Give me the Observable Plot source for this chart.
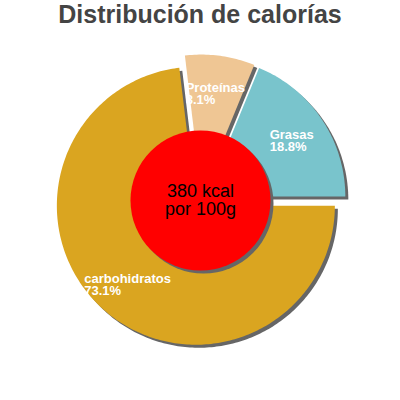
<!DOCTYPE html>
<html>
<head>
<meta charset="utf-8">
<script src="https://cdn.jsdelivr.net/npm/d3@7"></script>
<script src="https://cdn.jsdelivr.net/npm/@observablehq/plot@0.6"></script>
<style>
  html, body { margin: 0; padding: 0; background: #fff; }
  #title { width: 400px; height: 34px; line-height: 34px; text-align: center;
           font: bold 25px "Liberation Sans", Arial, sans-serif; color: #444; white-space: nowrap; }
  #chart svg { display: block; }
</style>
</head>
<body>
<div id="title">Distribución de calorías</div>
<div id="chart"></div>
<script>
// ---- data ----
const names = ["Proteínas", "Grasas", "carbohidratos"];
const percents = [8.1, 18.8, 73.1];
const colors = ["#efc694", "#79c4cc", "#daa520"];
const centerLines = ["380 kcal", "por 100g"];

// ---- layout constants ----
const W = 400, H = 366;
const R = 139;        // pie radius (px)
const explode = 7;    // slice offset (px)
const innerR = 70;    // red centre disc radius (px)
const labelFont = "bold 13px 'Liberation Sans'";

// pie layout: slices in order, Grasas ending at 3 o'clock
const firstTwo = percents[0] + percents[1];
const start = Math.PI / 2 - 2 * Math.PI * firstTwo / 100;
const arcs = d3.pie().sort(null).value(d => d)
  .startAngle(start).endAngle(start + 2 * Math.PI)(percents);

const slicePoints = [];
const labels = [];
const ctx = document.createElement("canvas").getContext("2d");
ctx.font = labelFont;
arcs.forEach((a, i) => {
  const mid = (a.startAngle + a.endAngle) / 2;
  const ox = explode * Math.sin(mid), oy = -explode * Math.cos(mid);
  slicePoints.push({name: names[i], x: ox, y: oy});
  const n = Math.max(2, Math.ceil((a.endAngle - a.startAngle) / (Math.PI / 180)));
  for (let k = 0; k <= n; k++) {
    const t = a.startAngle + (a.endAngle - a.startAngle) * k / n;
    slicePoints.push({name: names[i], x: ox + R * Math.sin(t), y: oy - R * Math.cos(t)});
  }
  const lr = 0.74 * R + explode;
  const px = lr * Math.sin(mid), py = -lr * Math.cos(mid);
  const w = ctx.measureText(names[i]).width;
  labels.push({text: names[i] + "\n" + percents[i] + "%", x: px - w / 2, y: py - 8.5});
});

const plot = Plot.plot({
  width: W, height: H,
  margin: 0,
  x: {domain: [-200, 200], range: [0, 400], axis: null},
  y: {domain: [-166, 200], range: [0, 366], axis: null},
  color: {domain: names, range: colors},
  style: {fontFamily: "'Liberation Sans', Arial, sans-serif", background: "#fff"},
  marks: [
    // shadows
    Plot.line(slicePoints, {x: "x", y: "y", z: "name", fill: "#666", stroke: "none", curve: "linear-closed", dx: 3, dy: 3}),
    // slices
    Plot.line(slicePoints, {x: "x", y: "y", z: "name", fill: "name", stroke: "none", curve: "linear-closed"}),
    // slice labels
    Plot.text(labels, {x: "x", y: "y", text: "text", textAnchor: "start", lineAnchor: "top",
      lineHeight: 0.92, fontSize: 13, fontWeight: "bold", fill: "white"}),
    // centre disc
    Plot.dot([{x: 0, y: 0}], {x: "x", y: "y", r: innerR, fill: "#666", stroke: "none", dx: 3, dy: 3}),
    Plot.dot([{x: 0, y: 0}], {x: "x", y: "y", r: innerR, fill: "red", stroke: "none"}),
    Plot.text([{x: 0, y: 0, t: centerLines.join("\n")}], {x: "x", y: "y", text: "t",
      fontSize: 18, lineHeight: 0.95, fill: "black", textAnchor: "middle", lineAnchor: "middle"})
  ]
});
document.getElementById("chart").appendChild(plot);
</script>
</body>
</html>
